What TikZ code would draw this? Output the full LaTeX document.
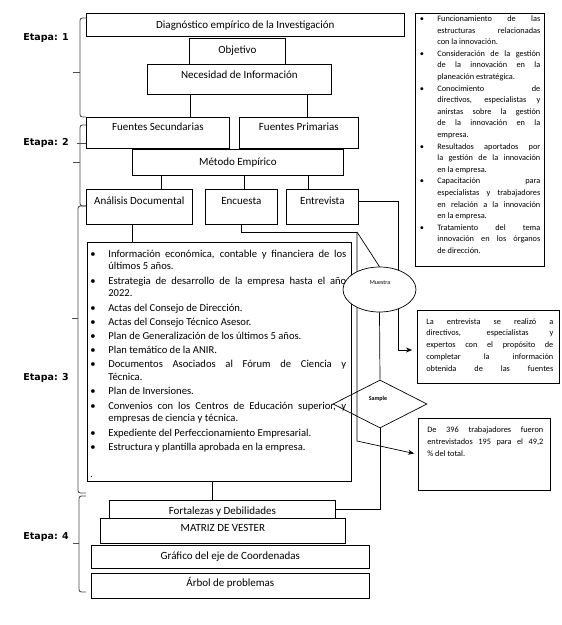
\documentclass[tikz,border=0pt]{standalone}
\usepackage{fontspec}
\setmainfont{Carlito}
\newfontfamily\labfont{DejaVu Sans}
\usetikzlibrary{shapes.geometric,arrows.meta}
\newlength\hng
\newlength\bsh
\newcommand\FL[1]{\hbox to \hsize{\hbox to \hng{\hskip\bsh\textbullet\hfil}#1}}
\newcommand\FE[1]{\hbox to \hsize{\hbox to \hng{\hskip\bsh\textbullet\hfil}#1\hfil}}
\newcommand\ML[1]{\hbox to \hsize{\hskip\hng #1}}
\newcommand\LL[1]{\hbox to \hsize{\hskip\hng #1\hfil}}
\newcommand\JL[1]{\hbox to \hsize{#1}}
\newcommand\JE[1]{\hbox to \hsize{#1\hfil}}
\begin{document}
\begin{tikzpicture}[x=1pt,y=-1pt,line width=0.7pt,
 bx/.style={draw, inner sep=0pt, anchor=north west, font=\fontsize{11}{13}\selectfont},
 brc/.style={draw=black!70, line width=0.9pt, rounded corners=2.5pt},
 etp/.style={anchor=west, inner sep=0pt, font=\labfont\bfseries\fontsize{9.5}{11}\selectfont},
 arr/.style={-{Stealth[length=6pt,width=5pt]}},
 tb/.style={anchor=base west, inner sep=0pt},
]
\useasboundingbox (0,0) rectangle (562,625);

% ---------- boxes ----------
\node[bx, minimum width=318pt, text height=15.5pt, text depth=7.5pt] (diag) at (86,13) {Diagnóstico empírico de la Investigación};
\node[bx, minimum width=96pt, text height=15.5pt, text depth=10.5pt] (obj) at (189,38) {Objetivo};
\node[bx, minimum width=184pt, text height=14.5pt, text depth=15.5pt] (nec) at (147,64) {Necesidad de Información};
\node[bx, minimum width=143pt, text height=13.5pt, text depth=17.5pt] (fsec) at (86,117) {Fuentes Secundarias};
\node[bx, minimum width=119pt, text height=13.5pt, text depth=17.5pt] (fpri) at (239,117) {Fuentes Primarias};
\node[bx, minimum width=211pt, text height=16.5pt, text depth=9.5pt] (met) at (132,149) {Método Empírico};
\node[bx, minimum width=106pt, text height=15.5pt, text depth=19.5pt] (anal) at (86,189) {Análisis Documental};
\node[bx, minimum width=72pt, text height=15.5pt, text depth=19.5pt] (enc) at (205,189) {Encuesta};
\node[bx, minimum width=72pt, text height=15.5pt, text depth=19.5pt] (entr) at (286,189) {Entrevista};
\node[bx, minimum width=264pt, minimum height=239pt] (lst) at (87,242) {};
\node[bx, minimum width=226pt, text height=14.5pt, text depth=3.5pt] (fort) at (109,500) {Fortalezas y Debilidades};
\node[bx, fill=white, minimum width=245pt, text height=13.5pt, text depth=11.5pt] (mat) at (100,518) {MATRIZ DE VESTER};
\node[bx, minimum width=278pt, text height=14.5pt, text depth=8.5pt] (graf) at (91,545) {Gráfico del eje de Coordenadas};
\node[bx, minimum width=278pt, text height=13.5pt, text depth=11.5pt] (arb) at (91,573) {Árbol de problemas};

\node[bx, minimum width=129pt, minimum height=253pt] (rtb) at (415,13) {};
\node[bx, minimum width=142pt, minimum height=73pt] (en) at (417,310) {};
\node[bx, minimum width=132pt, minimum height=72pt] (de) at (418,418) {};

% ---------- list text ----------
\node[tb, font=\fontsize{10.6}{12.8}\selectfont] (lstt) at (89,257) {\vtop{\hsize=257pt
\setlength\hng{19pt}\setlength\bsh{1pt}%
\FL{Información económica, contable y financiera de los}\LL{últimos 5 años.}\vskip1.4pt
\FL{Estrategia de desarrollo de la empresa hasta el año}\LL{2022.}\vskip1.4pt
\FE{Actas del Consejo de Dirección.}\vskip1.4pt
\FE{Actas del Consejo Técnico Asesor.}\vskip1.4pt
\FE{Plan de Generalización de los últimos 5 años.}\vskip1.4pt
\FE{Plan temático de la ANIR.}\vskip1.4pt
\FL{Documentos Asociados al Fórum de Ciencia y}\LL{Técnica.}\vskip1.4pt
\FE{Plan de Inversiones.}\vskip1.4pt
\FL{Convenios con los Centros de Educación superior, y}\LL{empresas de ciencia y técnica.}\vskip1.4pt
\FE{Expediente del Perfeccionamiento Empresarial.}\vskip1.4pt
\FE{Estructura y plantilla aprobada en la empresa.}}};
\node[tb, font=\fontsize{10}{12}\selectfont] (dot) at (90,477) {.};

\node[tb, font=\fontsize{8.3}{11.6}\selectfont] (rtt) at (419,21.5) {\vtop{\hsize=121pt
\setlength\hng{18pt}\setlength\bsh{0.5pt}%
\FL{Funcionamiento de las}\ML{estructuras relacionadas}\LL{con la innovación.}
\FL{Consideración de la gestión}\ML{de la innovación en la}\LL{planeación estratégica.}
\FL{Conocimiento de}\ML{directivos, especialistas y}\ML{anirstas sobre la gestión}\ML{de la innovación en la}\LL{empresa.}
\FL{Resultados aportados por}\ML{la gestión de la innovación}\LL{en la empresa.}
\FL{Capacitación para}\ML{especialistas y trabajadores}\ML{en relación a la innovación}\LL{en la empresa.}
\FL{Tratamiento del tema}\ML{innovación en los órganos}\LL{de dirección.}}};

\node[tb, font=\fontsize{8.3}{11.75}\selectfont] (ent) at (426,324) {\vtop{\hsize=127pt
\JL{La entrevista se realizó a}\JL{directivos, especialistas y}\JL{expertos con el propósito de}\JL{completar la información}\JL{obtenida de las fuentes}}};

\node[tb, font=\fontsize{8.3}{12}\selectfont] (det) at (427,432) {\vtop{\hsize=116pt
\JL{De 396 trabajadores fueron}\JL{entrevistados 195 para el 49,2}\JE{\% del total.}}};

% ---------- connectors ----------
\coordinate (xa) at (190,0); \coordinate (xb) at (307,0);
\coordinate (xc) at (161,0); \coordinate (xd) at (244,0); \coordinate (xe) at (308,0);
\coordinate (xf) at (132,0); \coordinate (xg) at (241,0); \coordinate (xh) at (212,0);
\coordinate (j1) at (357,232); \coordinate (j2) at (357,441);
\coordinate (j4) at (398,201); \coordinate (j3) at (398,350);

\draw (nec.south -| xa) -- (fsec.north -| xa);
\draw (nec.south -| xb) -- (fpri.north -| xb);
\draw (met.south -| xc) -- (anal.north -| xc);
\draw (met.south -| xd) -- (enc.north -| xd);
\draw (met.south -| xe) -- (entr.north -| xe);
\draw (anal.south -| xf) -- (lst.north -| xf);
\draw (lst.south -| xh) -- (fort.north -| xh);
\draw (enc.south -| xg) |- (j1);
\draw[arr, shorten >=4pt] (j1) -- (j2) -- (de.west);
\draw[arr, shorten >=5pt] (entr.east |- j4) -| (j3) -- (en.west |- j3);

\node[ellipse, draw, fill=white, minimum width=73pt, minimum height=45pt, inner sep=0pt] (mue) at (379.5,289.5) {};
\node[font=\fontsize{6}{7}\selectfont, inner sep=0pt] (muet) at (380,283) {Muestra};
\draw (j1) -- (mue.north);
\node[diamond, draw, minimum width=94pt, minimum height=48pt, aspect=1.96, inner sep=0pt] (smp) at (380,404) {};
\node[font=\fontsize{6}{7}\selectfont\bfseries, inner sep=0pt] (smpt) at (378,399) {Sample};
\draw (mue.south) -- (smp.north);
\draw (smp.south) |- (fort.east);

% ---------- braces ----------
\draw[brc] (86,18) -- (80,18) -- (80,117) -- (86,117);
\draw[brc] (80,72) -- (73,72);
\draw[brc] (86,125) -- (80,125) -- (80,206) -- (86,206);
\draw[brc] (80,162) -- (73,162);
\draw[brc] (77,143) -- (86,143);
\draw[brc] (86,206) -- (78,206) -- (78,493) -- (86,493);
\draw[brc] (78,318) -- (72,318);
\draw[brc] (86,496) -- (79,496) -- (79,592) -- (86,592);
\draw[brc] (79,543) -- (73,543);

\node[etp] (e1) at (23,38) {Etapa: 1};
\node[etp] (e2) at (23,143) {Etapa: 2};
\node[etp] (e3) at (23,378) {Etapa: 3};
\node[etp] (e4) at (23,537) {Etapa: 4};
\end{tikzpicture}
\end{document}
